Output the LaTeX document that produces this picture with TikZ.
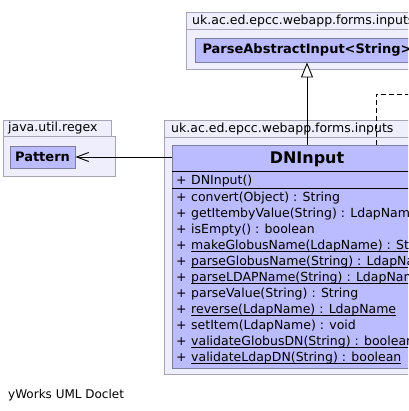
\documentclass[tikz,border=0pt]{standalone}
\usepackage{fontspec}
\setmainfont{DejaVu Sans}
\usetikzlibrary{arrows.meta}
\definecolor{pkgfill}{RGB}{238,238,252}
\definecolor{pkgdraw}{RGB}{165,165,182}
\definecolor{clsfill}{RGB}{187,187,255}
\definecolor{clsdraw}{RGB}{125,125,160}
\newcommand\ulx[1]{\setbox0\hbox{#1}\rlap{\rule[-2pt]{\wd0}{0.8pt}}\box0}
\tikzset{
  pkg/.style={draw=pkgdraw, fill=pkgfill, line width=0.9pt},
  cls/.style={draw=clsdraw, fill=clsfill, line width=0.9pt, inner sep=0pt,
    font=\fontsize{13}{15}\selectfont\bfseries},
  lbl/.style={anchor=base west, inner sep=0pt, font=\fontsize{12.5}{14}\selectfont},
  sep/.style={draw=black, line width=0.9pt},
  conn/.style={draw=black, line width=0.9pt},
}
\begin{document}
\begin{tikzpicture}[x=1pt,y=-1pt]
\useasboundingbox (0,0) rectangle (408,411);
\clip (0,0) rectangle (408,411);
% upper package
\path[pkg] (186,12) rectangle (460,29);
\path[pkg] (186,29) rectangle (470,69);
\node[lbl] (up) at (192,25) {uk.ac.ed.epcc.webapp.forms.inputs};
\node[cls, minimum width=224pt, minimum height=24pt] (pai) at (307,50) {ParseAbstractInput<String>};
% java.util.regex package
\path[pkg] (3,120) rectangle (111,136);
\path[pkg] (3,136) rectangle (115,176);
\node[lbl] (jp) at (8,132) {java.util.regex};
\node[cls, minimum width=65pt, minimum height=22pt] (pat) at (42.5,157) {Pattern};
% lower package
\path[pkg] (164,120) rectangle (460,137);
\path[pkg] (164,137) rectangle (470,374);
\node[lbl] (lp) at (171,133) {uk.ac.ed.epcc.webapp.forms.inputs};
% DNInput class
\node[cls, anchor=north west, minimum width=270pt, minimum height=223pt] (dn) at (172,145) {};
\node[anchor=base, inner sep=0pt, font=\fontsize{16}{18}\selectfont\bfseries] (dnt) at (307,164) {DNInput};
\draw[sep] (172,171) -- (442,171);
\draw[sep] (172,188) -- (442,188);
\node[lbl] (c0p) at (176,184.5) {+};
\node[lbl] (c0) at (191,184.5) {DNInput()};
\foreach \i/\t in {0/{convert(Object) : String},
                   1/{getItembyValue(String) : LdapName},
                   2/{isEmpty() : boolean},
                   3/{\ulx{makeGlobusName(LdapName) : String}},
                   4/{\ulx{parseGlobusName(String) : LdapName}},
                   5/{\ulx{parseLDAPName(String) : LdapName}},
                   6/{parseValue(String) : String},
                   7/{\ulx{reverse(LdapName) : LdapName}},
                   8/{setItem(LdapName) : void},
                   9/{\ulx{validateGlobusDN(String) : boolean}},
                   10/{\ulx{validateLdapDN(String) : boolean}}}{
  \node[lbl] (mp\i) at (176,{201.5+16*\i}) {+};
  \node[lbl] (m\i) at (191,{201.5+16*\i}) {\t};
}
% connectors
\draw[conn, -{Triangle[open, width=12pt, length=15pt, fill=white]}] (dn.north -| pai.south) -- (pai.south);
\draw[conn, -{Straight Barb[length=12pt, width=9pt]}] (pat.east -| dn.west) -- (pat.east);
\coordinate (ext) at (430,94);
\draw[conn, dashed, dash pattern=on 5pt off 3pt] (376,145) |- (ext);
% footer
\node[lbl, font=\fontsize{12}{14}\selectfont] (foot) at (8,398) {yWorks UML Doclet};
\end{tikzpicture}
\end{document}
